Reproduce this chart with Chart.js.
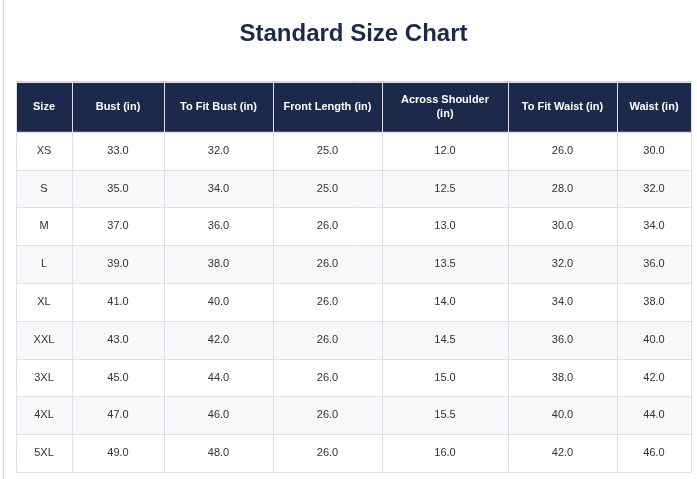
<!DOCTYPE html>
<html><head><meta charset="utf-8">
<script src="https://cdn.jsdelivr.net/npm/chart.js@4"></script>
<style>
html,body{margin:0;padding:0;background:#fff;}
#wrap{position:absolute;left:0;top:0;width:697px;height:479px;}
#edge{position:absolute;left:3px;top:0;width:1px;height:479px;background:#cfcfcf;}
</style></head><body>
<div id="wrap"><canvas id="c"></canvas></div><div id="edge"></div>
<script>
const headers = ["Size","Bust (in)","To Fit Bust (in)","Front Length (in)",["Across Shoulder","(in)"],"To Fit Waist (in)","Waist (in)"];
const sizes = ["XS","S","M","L","XL","XXL","3XL","4XL","5XL"];
const bust = [33,35,37,39,41,43,45,47,49];
const fitBust = [32,34,36,38,40,42,44,46,48];
const frontLength = [25,25,26,26,26,26,26,26,26];
const acrossShoulder = [12,12.5,13,13.5,14,14.5,15,15.5,16];
const fitWaist = [26,28,30,32,34,36,38,40,42];
const waist = [30,32,34,36,38,40,42,44,46];

const colWidths = [56,92,109,109,126,109,74];
const headerUnits = 50/37.8;
const colEdges = colWidths.reduce((a,w)=>{a.push(a[a.length-1]+w);return a;},[0]);
const totalW = colEdges[colEdges.length-1];
const totalH = headerUnits + sizes.length;
const columns = [sizes, bust, fitBust, frontLength, acrossShoulder, fitWaist, waist];

const cellPoints = [];
columns.forEach((col,ci)=>col.forEach((v,ri)=>cellPoints.push({x:(colEdges[ci]+colEdges[ci+1])/2, y:headerUnits+ri+0.5, v, ci, ri})));

const tablePlugin = {
  id:'table',
  beforeDatasetsDraw(chart){
    const ctx=chart.ctx, xs=chart.scales.x, ys=chart.scales.y;
    const X=v=>xs.getPixelForValue(v), Y=v=>ys.getPixelForValue(v);
    ctx.save();
    // row backgrounds
    for(let r=0;r<sizes.length;r++){
      ctx.fillStyle = r%2 ? '#f7f8fa' : '#ffffff';
      ctx.fillRect(X(0),Y(headerUnits+r),X(totalW)-X(0),Y(headerUnits+r+1)-Y(headerUnits+r));
    }
    ctx.fillStyle='#1b2a4a';
    ctx.fillRect(X(0),Y(0),X(totalW)-X(0),Y(headerUnits)-Y(0));
    // grid lines
    ctx.strokeStyle='#dde0e4'; ctx.lineWidth=1;
    for(let r=0;r<=sizes.length;r++){
      const y=Math.round(Y(headerUnits+r))+0.5;
      ctx.beginPath();ctx.moveTo(X(0),y);ctx.lineTo(X(totalW),y);ctx.stroke();
    }
    ctx.beginPath();ctx.moveTo(X(0),Math.round(Y(0))+0.5);ctx.lineTo(X(totalW),Math.round(Y(0))+0.5);ctx.stroke();
    colEdges.forEach(e=>{const x=Math.round(X(e))+0.5;ctx.beginPath();ctx.moveTo(x,Y(0));ctx.lineTo(x,Y(totalH));ctx.stroke();});
    // headers
    ctx.fillStyle='#ffffff'; ctx.font='bold 11px "Liberation Sans", Arial, sans-serif';
    ctx.textAlign='center'; ctx.textBaseline='middle';
    headers.forEach((h,i)=>{
      const cx=X((colEdges[i]+colEdges[i+1])/2), cy=Y(headerUnits/2);
      const lines=Array.isArray(h)?h:[h];
      lines.forEach((l,k)=>ctx.fillText(l,cx,cy+(k-(lines.length-1)/2)*14));
    });
    // body
    ctx.fillStyle='#333333'; ctx.font='11px "Liberation Sans", Arial, sans-serif';
    cellPoints.forEach(p=>{
      ctx.fillText(typeof p.v==='number'?p.v.toFixed(1):p.v, X(p.x), Y(p.y));
    });
    ctx.restore();
  }
};

new Chart(document.getElementById('c'),{
  type:'scatter',
  data:{datasets:[{data:cellPoints,pointRadius:0,pointHoverRadius:0}]},
  options:{
    responsive:true, maintainAspectRatio:false, animation:false,
    layout:{padding:{left:16,right:6,bottom:7,top:0}},
    events:[],
    scales:{
      x:{type:'linear',min:0,max:totalW,display:false},
      y:{type:'linear',min:0,max:totalH,reverse:true,display:false}
    },
    plugins:{
      legend:{display:false}, tooltip:{enabled:false},
      title:{display:true,text:'Standard Size Chart',color:'#1b2a4a',
        font:{size:24,weight:'bold',family:'"Liberation Sans", Arial, sans-serif'},
        padding:{top:20,bottom:33}}
    }
  },
  plugins:[tablePlugin]
});
</script></body></html>
